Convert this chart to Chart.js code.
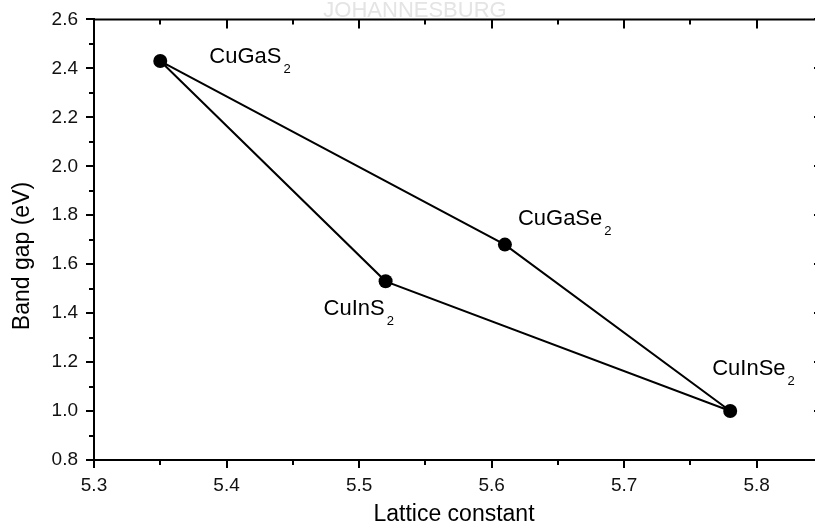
<!DOCTYPE html>
<html>
<head>
<meta charset="utf-8">
<script src="https://cdn.jsdelivr.net/npm/chart.js@4.4.1/dist/chart.umd.min.js"></script>
<style>
    html, body { margin: 0; padding: 0; background: #fff; overflow: hidden; }
    #wrap { position: absolute; left: 0; top: 0; width: 830px; height: 529px; }
</style>
</head>
<body>
<div id="wrap"><canvas id="gapChart" width="830" height="529"></canvas></div>
<script>
// compounds, lattice constant (A) and band gap (eV)
const compounds = ['CuGaS2', 'CuGaSe2', 'CuInSe2', 'CuInS2'];
const latticeConstant = [5.35, 5.61, 5.78, 5.52];
const bandGap = [2.43, 1.68, 1.00, 1.53];
// order in which the points are joined (closed outline)
const outline = [0, 1, 2, 3, 0];

const xTicks = [5.3, 5.4, 5.5, 5.6, 5.7, 5.8];
const yTicks = [0.8, 1.0, 1.2, 1.4, 1.6, 1.8, 2.0, 2.2, 2.4, 2.6];

// label placement relative to each point, in px
const labelOffsets = [[49, -4], [13, -26], [-18, -42], [-62, 28]];

const FONT = "Arial, 'Liberation Sans', sans-serif";


const frame = {
    id: 'frame',
    beforeDraw(chart) {
        const {ctx} = chart;
        ctx.save();
        ctx.fillStyle = '#e4e4e4';
        ctx.font = '22px ' + FONT;
        ctx.textAlign = 'center';
        ctx.textBaseline = 'alphabetic';
        ctx.fillText('JOHANNESBURG', 415, 17);
        ctx.restore();
    },
    afterDraw(chart) {
        const {ctx, chartArea} = chart;
        const xs = chart.scales.x, ys = chart.scales.y;
        const {left, right, top, bottom} = chartArea;
        ctx.save();
        ctx.strokeStyle = '#000';
        ctx.lineWidth = 2;

        ctx.beginPath();
        ctx.moveTo(left - 1, top);
        ctx.lineTo(right, top);
        ctx.lineTo(right, bottom + 1);
        ctx.stroke();

        ctx.beginPath();
        // major ticks, top and right (inward)
        xTicks.forEach(v => {
            const px = Math.round(xs.getPixelForValue(v));
            ctx.moveTo(px, top);
            ctx.lineTo(px, top + 9);
        });
        yTicks.forEach(v => {
            const py = Math.round(ys.getPixelForValue(v));
            ctx.moveTo(right, py);
            ctx.lineTo(right - 9, py);
        });
        // minor ticks
        for (let i = 0; i < xTicks.length; i++) {
            const px = Math.round(xs.getPixelForValue(xTicks[i] + 0.05));
            ctx.moveTo(px, bottom);
            ctx.lineTo(px, bottom + 5);
            ctx.moveTo(px, top);
            ctx.lineTo(px, top + 5);
        }
        for (let i = 0; i < yTicks.length - 1; i++) {
            const py = Math.round(ys.getPixelForValue(yTicks[i] + 0.1));
            ctx.moveTo(left, py);
            ctx.lineTo(left - 5, py);
            ctx.moveTo(right, py);
            ctx.lineTo(right - 5, py);
        }
        ctx.stroke();

        // axis titles
        ctx.fillStyle = '#000';
        ctx.font = '23px ' + FONT;
        ctx.textAlign = 'center';
        ctx.textBaseline = 'middle';
        ctx.fillText('Lattice constant', 454, 515);
        ctx.translate(23, 256);
        ctx.rotate(-Math.PI / 2);
        ctx.fillText('Band gap (eV)', 0, 0);
        ctx.restore();
    }
};

const pointLabels = {
    id: 'pointLabels',
    afterDatasetsDraw(chart) {
        const {ctx} = chart;
        const xs = chart.scales.x, ys = chart.scales.y;
        ctx.save();
        ctx.fillStyle = '#000';
        ctx.textAlign = 'left';
        compounds.forEach((name, i) => {
            const main = name.replace(/\d+$/, '');
            const sub = name.slice(main.length);
            const x = xs.getPixelForValue(latticeConstant[i]) + labelOffsets[i][0];
            const y = ys.getPixelForValue(bandGap[i]) + labelOffsets[i][1];
            ctx.font = '22px ' + FONT;
            ctx.textBaseline = 'middle';
            ctx.fillText(main, x, y);
            const w = ctx.measureText(main).width;
            ctx.font = '13px ' + FONT;
            ctx.textBaseline = 'alphabetic';
            ctx.fillText(sub, x + w + 2, y + 16);
        });
        ctx.restore();
    }
};


const tickFont = {size: 19, family: FONT};

new Chart(document.getElementById('gapChart'), {
    type: 'scatter',
    data: {
        datasets: [
            {
                data: outline.map(i => ({x: latticeConstant[i], y: bandGap[i]})),
                showLine: true,
                borderColor: '#000',
                borderWidth: 2,
                pointRadius: 0,
                tension: 0,
            },
            {
                data: compounds.map((c, i) => ({x: latticeConstant[i], y: bandGap[i]})),
                pointRadius: 7,
                pointBackgroundColor: '#000',
                pointBorderWidth: 0,
            }
        ]
    },
    options: {
        responsive: false,
        animation: false,
        layout: {padding: {top: 19, right: 7, left: 0, bottom: 0}},
        plugins: {
            legend: {display: false},
            tooltip: {enabled: false},
        },
        scales: {
            x: {
                type: 'linear',
                min: 5.3,
                max: 5.85,
                afterFit(scale) { scale.height = 69; },
                ticks: {
                    stepSize: 0.1,
                    includeBounds: false,
                    autoSkip: false,
                    maxRotation: 0,
                    padding: 6,
                    color: '#111',
                    font: tickFont,
                    callback: v => Number(v).toFixed(1),
                },
                grid: {drawOnChartArea: false, drawTicks: true, tickLength: 8, lineWidth: 2, color: '#000'},
                border: {display: true, width: 2, color: '#000'},
            },
            y: {
                type: 'linear',
                min: 0.8,
                max: 2.6,
                afterFit(scale) { scale.width = 94; },
                ticks: {
                    stepSize: 0.2,
                    autoSkip: false,
                    padding: 8,
                    color: '#111',
                    font: tickFont,
                    callback: v => Number(v).toFixed(1),
                },
                grid: {drawOnChartArea: false, drawTicks: true, tickLength: 8, lineWidth: 2, color: '#000'},
                border: {display: true, width: 2, color: '#000'},
            }
        }
    },
    plugins: [frame, pointLabels],
});
</script>
</body>
</html>
